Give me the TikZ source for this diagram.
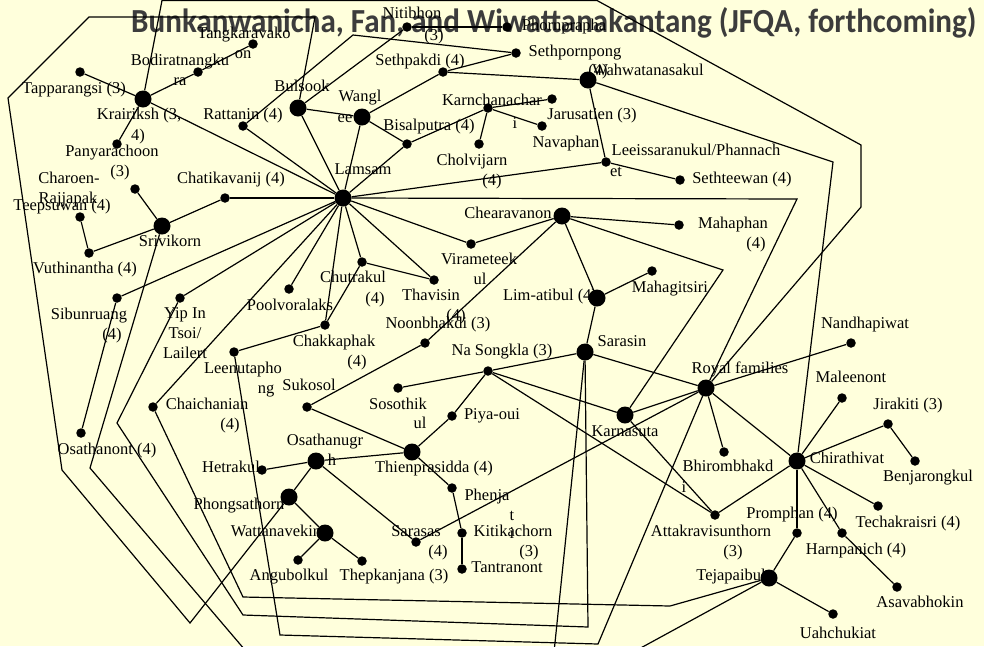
\documentclass[tikz,border=0pt]{standalone}
\usepackage{fontspec}
\usepackage{graphicx}
\setmainfont{Liberation Serif}
\newfontfamily\titlefont{Carlito}
\definecolor{bgcol}{HTML}{FFFFDC}
\definecolor{titlecol}{HTML}{3C3C3C}
\tikzset{
  bigdot/.style={circle, fill=black, inner sep=0pt, minimum size=17pt},
  smalldot/.style={circle, fill=black, inner sep=0pt, minimum size=9.5pt},
  lbl/.style={inner sep=0pt, font=\fontsize{16.5}{20}\selectfont, text height=11pt, text depth=3.5pt},
  link/.style={line width=1.2pt, draw=black, line join=miter}
}
\begin{document}
\begin{tikzpicture}[x=1pt,y=-1pt]
\useasboundingbox (0,0) rectangle (984,646);
\fill[bgcol] (0,0) rectangle (984,646);
\clip (0,0) rectangle (984,646);
% title
\node[anchor=base west, inner sep=0pt, text=titlecol] (title) at (131,32)
  {\resizebox{845pt}{25pt}{\titlefont\bfseries Bunkanwanicha, Fan, and Wiwattanakantang (JFQA, forthcoming)}};
% labels
\node[lbl] (l1) at (74,90) {Tapparangsi (3)};
\node[lbl] (l2a) at (180,62) {Bodiratnangku};
\node[lbl] (l2b) at (180,82) {ra};
\node[lbl] (l3a) at (244,35) {Tangkaravako};
\node[lbl] (l3b) at (243,55) {on};
\node[lbl] (l4a) at (139,116) {Krairiksh (3,};
\node[lbl] (l4b) at (138,137) {4)};
\node[lbl] (l5) at (243,116) {Rattanin (4)};
\node[lbl] (l6) at (302,88) {Bulsook};
\node[lbl] (l7a) at (112,153) {Panyarachoon};
\node[lbl] (l7b) at (120,173) {(3)};
\node[lbl] (l8a) at (69,180) {Charoen-};
\node[lbl] (l8b) at (68,200) {Rajjapak};
\node[lbl] (l9) at (62,207) {Teepsuwan (4)};
\node[lbl] (l10) at (231,180) {Chatikavanij (4)};
\node[lbl] (l11a) at (412,15) {Nitibhon};
\node[lbl] (l11b) at (434,37) {(3)};
\node[lbl] (l12) at (564,27) {Phornprapha};
\node[lbl] (l13) at (420,62) {Sethpakdi (4)};
\node[lbl] (l15) at (648,72) {Wahwatanasakul};
\node[lbl] (l14a) at (575,53) {Sethpornpong};
\node[lbl] (l14b) at (598,72) {(4)};
\node[lbl] (l16a) at (360,98) {Wangl};
\node[lbl] (l16b) at (345,119) {ee};
\node[lbl] (l17a) at (492,102) {Karnchanachar};
\node[lbl] (l17b) at (515,125) {i};
\node[lbl] (l18) at (592,116) {Jarusatien (3)};
\node[lbl] (l19) at (429,127) {Bisalputra (4)};
\node[lbl] (l20) at (566,144) {Navaphan};
\node[lbl] (l21a) at (472,162) {Cholvijarn};
\node[lbl] (l21b) at (492,182) {(4)};
\node[lbl] (l22) at (363,171) {Lamsam};
\node[lbl] (l23a) at (696,152) {Leeissaranukul/Phannach};
\node[lbl] (l23b) at (616,173) {et};
\node[lbl] (l24) at (742,180) {Sethteewan (4)};
\node[lbl] (l25) at (508,215) {Chearavanon};
\node[lbl] (l26) at (170,243) {Srivikorn};
\node[lbl] (l27) at (85,270) {Vuthinantha (4)};
\node[lbl] (l28a) at (89,316) {Sibunruang};
\node[lbl] (l28b) at (112,336) {(4)};
\node[lbl] (l29a) at (185,315) {Yip In};
\node[lbl] (l29b) at (185,335) {Tsoi/};
\node[lbl] (l29c) at (185,355) {Lailert};
\node[lbl] (l30) at (290,307) {Poolvoralaks};
\node[lbl] (l31a) at (243,370) {Leenutapho};
\node[lbl] (l31b) at (266,390) {ng};
\node[lbl] (l32) at (309,387) {Sukosol};
\node[lbl] (l33a) at (207,406) {Chaichanian};
\node[lbl] (l33b) at (230,426) {(4)};
\node[lbl] (l34a) at (334,343) {Chakkaphak};
\node[lbl] (l34b) at (357,363) {(4)};
\node[lbl] (l35a) at (353,279) {Chutrakul};
\node[lbl] (l35b) at (375,300) {(4)};
\node[lbl] (l36a) at (431,297) {Thavisin};
\node[lbl] (l36b) at (456,317) {(4)};
\node[lbl] (l37a) at (479,261) {Virameteek};
\node[lbl] (l37b) at (480,281) {ul};
\node[lbl] (l38) at (438,325) {Noonbhakdi (3)};
\node[lbl] (l39) at (550,297) {Lim-atibul (4)};
\node[lbl] (l40) at (670,289) {Mahagitsiri};
\node[lbl] (l41) at (502,352) {Na Songkla (3)};
\node[lbl] (l42) at (622,343) {Sarasin};
\node[lbl] (l43a) at (398,406) {Sosothik};
\node[lbl] (l43b) at (420,425) {ul};
\node[lbl] (l44) at (492,416) {Piya-oui};
\node[lbl] (l45a) at (733,225) {Mahaphan};
\node[lbl] (l45b) at (756,245) {(4)};
\node[lbl] (l46) at (865,325) {Nandhapiwat};
\node[lbl] (l47a) at (740,370) {Royal families};
\node[lbl] (l47b) at (701,390) {(};
\node[lbl] (l48) at (851,379) {Maleenont};
\node[lbl] (l49) at (908,406) {Jirakiti (3)};
\node[lbl] (l50) at (847,460) {Chirathivat};
\node[lbl] (l51) at (928,478) {Benjarongkul};
\node[lbl] (l52a) at (728,468) {Bhirombhakd};
\node[lbl] (l52b) at (684,489) {i};
\node[lbl] (l53) at (792,515) {Promphan (4)};
\node[lbl] (l54) at (908,524) {Techakraisri (4)};
\node[lbl] (l55a) at (711,533) {Attakravisunthorn};
\node[lbl] (l55b) at (733,553) {(3)};
\node[lbl] (l56) at (856,551) {Harnpanich (4)};
\node[lbl] (l57) at (731,577) {Tejapaibul};
\node[lbl] (l58) at (920,604) {Asavabhokin};
\node[lbl] (l59) at (838,635) {Uahchukiat};
\node[lbl] (l60) at (107,451) {Osathanont (4)};
\node[lbl] (l61) at (231,469) {Hetrakul};
\node[lbl] (l62a) at (325,442) {Osathanugr};
\node[lbl] (l62b) at (332,462) {h};
\node[lbl] (l63) at (239,506) {Phongsathorn};
\node[lbl] (l64) at (276,533) {Wattanavekin};
\node[lbl] (l65) at (289,577) {Angubolkul};
\node[lbl] (l66) at (394,577) {Thepkanjana (3)};
\node[lbl] (l67) at (434,469) {Thienprasidda (4)};
\node[lbl] (l68a) at (487,497) {Phenja};
\node[lbl] (l68b) at (512,517) {t};
\node[lbl] (l68c) at (512,535) {i};
\node[lbl] (l69a) at (513,533) {Kitikachorn};
\node[lbl] (l69b) at (529,553) {(3)};
\node[lbl] (l70a) at (416,533) {Sarasas};
\node[lbl] (l70b) at (438,553) {(4)};
\node[lbl] (l71) at (507,569) {Tantranont};
\node[lbl] (l72) at (625,433) {Karnasuta};
% dots
\node[bigdot] (krai) at (143,99) {};
\node[smalldot] (tapp) at (80,72) {};
\node[smalldot] (bodi) at (198,72) {};
\node[smalldot] (tang) at (253,44) {};
\node[smalldot] (pany) at (117,144) {};
\node[smalldot] (ratt) at (243,126) {};
\node[bigdot] (buls) at (298,108) {};
\node[smalldot] (nitib) at (407,27) {};
\node[smalldot] (phorn) at (507,27) {};
\node[smalldot] (sethpo) at (516,53) {};
\node[smalldot] (sethpa) at (443,72) {};
\node[bigdot] (wahw) at (588,80) {};
\node[bigdot] (wang) at (362,117) {};
\node[smalldot] (karn) at (488,108) {};
\node[smalldot] (jaru) at (552,99) {};
\node[smalldot] (nava) at (542,126) {};
\node[smalldot] (chol) at (479,144) {};
\node[smalldot] (bisa) at (407,144) {};
\node[bigdot] (lams) at (343,198) {};
\node[smalldot] (leei) at (606,162) {};
\node[smalldot] (sethte) at (680,180) {};
\node[smalldot] (chat) at (225,198) {};
\node[smalldot] (char) at (135,189) {};
\node[smalldot] (teep) at (80,217) {};
\node[bigdot] (srivi) at (162,226) {};
\node[smalldot] (vuth) at (89,253) {};
\node[smalldot] (sibu) at (117,298) {};
\node[smalldot] (yip) at (180,298) {};
\node[smalldot] (pool) at (289,289) {};
\node[smalldot] (leen) at (234,352) {};
\node[smalldot] (suko) at (307,407) {};
\node[smalldot] (chai) at (153,407) {};
\node[smalldot] (chak) at (325,325) {};
\node[smalldot] (chut) at (362,262) {};
\node[smalldot] (thav) at (434,280) {};
\node[smalldot] (vira) at (471,244) {};
\node[smalldot] (noon) at (425,343) {};
\node[bigdot] (chea) at (562,216) {};
\node[bigdot] (lima) at (597,298) {};
\node[smalldot] (mahag) at (652,271) {};
\node[smalldot] (naso) at (488,371) {};
\node[bigdot] (sara) at (585,352) {};
\node[smalldot] (soso) at (398,388) {};
\node[smalldot] (piya) at (452,416) {};
\node[smalldot] (mahap) at (679,225) {};
\node[smalldot] (nand) at (851,343) {};
\node[bigdot] (royal) at (706,388) {};
\node[smalldot] (male) at (842,398) {};
\node[smalldot] (jira) at (888,424) {};
\node[bigdot] (chir) at (797,461) {};
\node[smalldot] (benj) at (915,461) {};
\node[smalldot] (bhir) at (724,452) {};
\node[smalldot] (prom) at (797,533) {};
\node[smalldot] (tech) at (878,506) {};
\node[smalldot] (atta) at (715,515) {};
\node[smalldot] (harn) at (842,533) {};
\node[bigdot] (teja) at (769,578) {};
\node[smalldot] (asav) at (897,587) {};
\node[smalldot] (uahc) at (833,614) {};
\node[smalldot] (osan) at (81,433) {};
\node[smalldot] (hetr) at (262,470) {};
\node[bigdot] (osat) at (316,461) {};
\node[bigdot] (phon) at (289,497) {};
\node[bigdot] (watt) at (325,533) {};
\node[smalldot] (angu) at (298,560) {};
\node[smalldot] (thep) at (362,561) {};
\node[bigdot] (thie) at (412,452) {};
\node[smalldot] (phen) at (452,488) {};
\node[smalldot] (kiti) at (462,533) {};
\node[smalldot] (saras) at (416,542) {};
\node[smalldot] (tant) at (462,569) {};
\node[bigdot] (karna) at (625,415) {};
% off-page ends
\coordinate (offD) at (553,662);
\coordinate (offT) at (615,662);
% edges
\draw[link] (krai) -- (tapp);
\draw[link] (krai) -- (bodi);
\draw[link] (bodi) -- (tang);
\draw[link] (krai) -- (pany);
\draw[link] (krai) -- (lams);
\draw[link] (krai) -- (162,0.5) -- (597,0.5) -- (861,145) -- (861,207) -- (royal);
\draw[link] (ratt) -- (lams);
\draw[link] (ratt) -- (353,35) -- (sethpo);
\draw[link] (buls) -- (lams);
\draw[link] (buls) -- (wang);
\draw[link] (buls) -- (nitib);
\draw[link] (nitib) -- (phorn);
\draw[link] (buls) -- (315,17) -- (89,17) -- (8,98) -- (62,470) -- (190,623) -- (phon);
\draw[link] (wang) -- (sethpa);
\draw[link] (wang) -- (bisa);
\draw[link] (wang) -- (lams);
\draw[link] (sethpa) -- (sethpo);
\draw[link] (sethpa) -- (wahw);
\draw[link] (bisa) -- (karn);
\draw[link] (bisa) -- (lams);
\draw[link] (karn) -- (jaru);
\draw[link] (karn) -- (nava);
\draw[link] (karn) -- (chol);
\draw[link] (wahw) -- (leei);
\draw[link] (wahw) -- (833,162) -- (chir);
\draw[link] (leei) -- (sethte);
\draw[link] (leei) -- (lams);
\draw[link] (lams) -- (chat);
\draw[link] (chat) -- (srivi);
\draw[link] (srivi) -- (char);
\draw[link] (srivi) -- (vuth);
\draw[link] (vuth) -- (teep);
\draw[link] (srivi) -- (90,468) -- (245,650) -- (offD) -- (sara);
\draw[link] (lams) -- (sibu);
\draw[link] (sibu) -- (osan);
\draw[link] (lams) -- (yip);
\draw[link] (yip) -- (117,423) -- (243,615) -- (588,627) -- (sara);
\draw[link] (lams) -- (chai);
\draw[link] (chai) -- (243,597) -- (670,606) -- (teja);
\draw[link] (lams) -- (pool);
\draw[link] (lams) -- (chak);
\draw[link] (chut) -- (chak);
\draw[link] (lams) -- (chut);
\draw[link] (lams) -- (thav);
\draw[link] (chut) -- (thav);
\draw[link] (lams) -- (vira);
\draw[link] (vira) -- (chea);
\draw[link] (lams) -- (797,199) -- (royal);
\draw[link] (chak) -- (leen);
\draw[link] (leen) -- (280,635) -- (598,644) -- (royal);
\draw[link] (chea) -- (mahap);
\draw[link] (chea) -- (723,270) -- (karna);
\draw[link] (chea) -- (lima);
\draw[link] (chea) -- (noon);
\draw[link] (noon) -- (suko);
\draw[link] (suko) -- (thie);
\draw[link] (lima) -- (mahag);
\draw[link] (lima) -- (sara);
\draw[link] (sara) -- (naso);
\draw[link] (sara) -- (royal);
\draw[link] (naso) -- (soso);
\draw[link] (naso) -- (piya);
\draw[link] (naso) -- (karna);
\draw[link] (naso) -- (atta);
\draw[link] (piya) -- (thie);
\draw[link] (karna) -- (royal);
\draw[link] (karna) -- (atta);
\draw[link] (saras) -- (royal);
\draw[link] (atta) -- (chir);
\draw[link] (royal) -- (nand);
\draw[link] (royal) -- (bhir);
\draw[link] (royal) -- (chir);
\draw[link] (chir) -- (male);
\draw[link] (chir) -- (jira);
\draw[link] (jira) -- (benj);
\draw[link] (chir) -- (tech);
\draw[link] (chir) -- (harn);
\draw[link] (harn) -- (asav);
\draw[link] (chir) -- (prom);
\draw[link] (prom) -- (teja);
\draw[link] (teja) -- (uahc);
\draw[link] (teja) -- (offT);
\draw[link] (osat) -- (hetr);
\draw[link] (osat) -- (thie);
\draw[link] (osat) -- (phon);
\draw[link] (osat) -- (saras);
\draw[link] (phon) -- (watt);
\draw[link] (watt) -- (angu);
\draw[link] (watt) -- (thep);
\draw[link] (thie) -- (phen);
\draw[link] (phen) -- (kiti);
\draw[link] (kiti) -- (tant);
\end{tikzpicture}
\end{document}
